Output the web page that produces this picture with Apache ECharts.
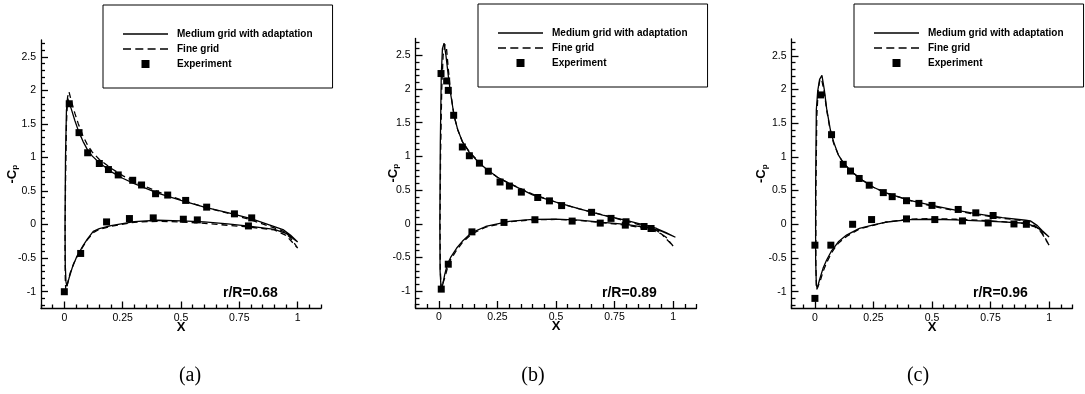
<!DOCTYPE html>
<html>
<head>
<meta charset="utf-8">
<script src="https://cdn.jsdelivr.net/npm/echarts@6.0.0/dist/echarts.min.js"></script>
<style>
  html, body { margin: 0; padding: 0; background: #fff; }
  #main { width: 1085px; height: 394px; }
</style>
</head>
<body>
<div id="main"></div>
<script>
// tick labels
const xTicks = [0, 0.25, 0.5, 0.75, 1]
const yTicks = [-1, -0.5, 0, 0.5, 1, 1.5, 2, 2.5]
const panelLabels = ['(a)', '(b)', '(c)']
const radiusLabels = ['r/R=0.68', 'r/R=0.89', 'r/R=0.96']
const seriesNames = ['Medium grid with adaptation', 'Fine grid', 'Experiment']

// (a) r/R = 0.68  -- [x, -Cp], trailing edge -> upper -> leading edge -> lower -> trailing edge
const mediumA = [
  [1.0, -0.26], [0.97, -0.16], [0.94, -0.08], [0.9, -0.03], [0.8, 0.09], [0.7, 0.18], [0.6, 0.26],
  [0.5, 0.36], [0.4, 0.47], [0.3, 0.61], [0.25, 0.69], [0.2, 0.79], [0.15, 0.92], [0.12, 1.02],
  [0.1, 1.11], [0.08, 1.24], [0.06, 1.4], [0.045, 1.55], [0.03, 1.72], [0.02, 1.83], [0.014, 1.88],
  [0.009, 1.7], [0.005, 1.0], [0.003, 0], [0.004, -0.6], [0.007, -0.85], [0.011, -0.92], [0.02, -0.8],
  [0.035, -0.63], [0.053, -0.48], [0.081, -0.31], [0.1, -0.21], [0.124, -0.1], [0.15, -0.06],
  [0.2, -0.015], [0.3, 0.045], [0.4, 0.065], [0.5, 0.055], [0.6, 0.04], [0.7, 0.01], [0.8, -0.025],
  [0.9, -0.07], [0.95, -0.13], [1.0, -0.26]
]
const fineA = [
  [1.0, -0.35], [0.97, -0.2], [0.94, -0.1], [0.9, -0.05], [0.8, 0.07], [0.7, 0.17], [0.6, 0.26],
  [0.5, 0.37], [0.4, 0.49], [0.3, 0.64], [0.25, 0.73], [0.2, 0.84], [0.15, 0.97], [0.12, 1.08],
  [0.1, 1.18], [0.08, 1.32], [0.06, 1.5], [0.045, 1.66], [0.03, 1.84], [0.02, 1.98], [0.014, 1.9],
  [0.009, 1.5], [0.005, 0.6], [0.003, -0.3], [0.004, -0.8], [0.006, -0.98], [0.012, -0.9],
  [0.025, -0.72], [0.04, -0.58], [0.06, -0.44], [0.081, -0.32], [0.1, -0.22], [0.124, -0.12],
  [0.15, -0.07], [0.2, -0.025], [0.3, 0.035], [0.4, 0.05], [0.5, 0.04], [0.6, 0.02], [0.7, -0.01],
  [0.8, -0.04], [0.9, -0.08], [0.95, -0.16], [1.0, -0.35]
]
const expA = [
  [0, -1.0], [0.021, 1.8], [0.063, 1.37], [0.1, 1.07], [0.15, 0.91], [0.189, 0.82], [0.231, 0.74],
  [0.293, 0.66], [0.331, 0.59], [0.391, 0.46], [0.443, 0.44], [0.52, 0.36], [0.61, 0.26],
  [0.729, 0.16], [0.803, 0.1], [0.07, -0.43], [0.181, 0.04], [0.279, 0.09], [0.381, 0.1],
  [0.51, 0.08], [0.57, 0.07], [0.789, -0.02]
]

// (b) r/R = 0.89
const mediumB = [
  [1.01, -0.2], [0.97, -0.13], [0.93, -0.07], [0.9, -0.04], [0.8, 0.05], [0.7, 0.13], [0.6, 0.22],
  [0.5, 0.32], [0.4, 0.43], [0.3, 0.6], [0.25, 0.69], [0.2, 0.82], [0.17, 0.91], [0.13, 1.06],
  [0.1, 1.22], [0.08, 1.4], [0.065, 1.6], [0.05, 1.93], [0.04, 2.2], [0.03, 2.5], [0.022, 2.68],
  [0.015, 2.6], [0.01, 2.2], [0.006, 1.2], [0.004, 0], [0.005, -0.7], [0.009, -0.95], [0.015, -0.92],
  [0.025, -0.75], [0.036, -0.6], [0.05, -0.5], [0.076, -0.36], [0.1, -0.26], [0.14, -0.13],
  [0.2, -0.04], [0.25, 0], [0.3, 0.035], [0.4, 0.065], [0.5, 0.07], [0.6, 0.055], [0.7, 0.02],
  [0.8, -0.01], [0.9, -0.065], [0.95, -0.11], [1.01, -0.2]
]
const fineB = [
  [1.0, -0.33], [0.97, -0.2], [0.93, -0.1], [0.9, -0.06], [0.8, 0.04], [0.7, 0.13], [0.6, 0.22],
  [0.5, 0.32], [0.4, 0.44], [0.3, 0.6], [0.25, 0.69], [0.2, 0.82], [0.17, 0.92], [0.13, 1.07],
  [0.1, 1.22], [0.08, 1.4], [0.065, 1.6], [0.05, 1.95], [0.04, 2.3], [0.032, 2.62], [0.026, 2.66],
  [0.018, 2.5], [0.012, 2.0], [0.007, 1.0], [0.005, 0], [0.006, -0.7], [0.01, -0.96], [0.016, -0.94],
  [0.025, -0.8], [0.036, -0.66], [0.05, -0.53], [0.076, -0.39], [0.1, -0.28], [0.14, -0.15],
  [0.2, -0.05], [0.25, -0.01], [0.3, 0.03], [0.4, 0.06], [0.5, 0.065], [0.6, 0.05], [0.7, 0.015],
  [0.8, -0.02], [0.9, -0.08], [0.95, -0.15], [1.0, -0.33]
]
const expB = [
  [0.009, 2.23], [0.033, 2.12], [0.04, 1.98], [0.063, 1.61], [0.1, 1.14], [0.13, 1.01], [0.173, 0.9],
  [0.211, 0.78], [0.261, 0.62], [0.301, 0.56], [0.352, 0.47], [0.422, 0.39], [0.472, 0.34],
  [0.524, 0.27], [0.652, 0.17], [0.735, 0.08], [0.799, 0.03],
  [0.01, -0.97], [0.04, -0.6], [0.141, -0.12], [0.278, 0.02], [0.41, 0.06], [0.569, 0.04],
  [0.689, 0.01], [0.796, -0.02], [0.876, -0.04], [0.906, -0.07]
]

// (c) r/R = 0.96
const mediumC = [
  [1.0, -0.19], [0.97, -0.09], [0.95, -0.02], [0.92, 0.05], [0.9, 0.06], [0.8, 0.1], [0.7, 0.15],
  [0.6, 0.21], [0.5, 0.28], [0.4, 0.36], [0.3, 0.47], [0.25, 0.55], [0.2, 0.66], [0.15, 0.8],
  [0.12, 0.92], [0.1, 1.03], [0.08, 1.22], [0.065, 1.42], [0.05, 1.72], [0.04, 2.0], [0.03, 2.21],
  [0.02, 2.15], [0.012, 1.98], [0.006, 1.7], [0.003, 0.5], [0.003, -0.5], [0.006, -0.9], [0.01, -0.95],
  [0.02, -0.82], [0.035, -0.65], [0.05, -0.53], [0.07, -0.4], [0.085, -0.33], [0.1, -0.26],
  [0.135, -0.16], [0.19, -0.06], [0.25, -0.01], [0.3, 0.03], [0.4, 0.07], [0.5, 0.075], [0.6, 0.065],
  [0.7, 0.05], [0.8, 0.035], [0.9, 0.015], [0.94, -0.03], [0.97, -0.1], [1.0, -0.19]
]
const fineC = [
  [1.0, -0.31], [0.97, -0.14], [0.95, -0.05], [0.92, 0.03], [0.9, 0.05], [0.8, 0.09], [0.7, 0.14],
  [0.6, 0.2], [0.5, 0.27], [0.4, 0.36], [0.3, 0.47], [0.25, 0.55], [0.2, 0.66], [0.15, 0.8],
  [0.12, 0.92], [0.1, 1.03], [0.08, 1.2], [0.065, 1.4], [0.05, 1.7], [0.04, 1.96], [0.03, 2.13],
  [0.022, 2.16], [0.014, 2.0], [0.008, 1.6], [0.004, 0.4], [0.004, -0.6], [0.007, -0.97],
  [0.012, -0.98], [0.022, -0.85], [0.035, -0.7], [0.05, -0.57], [0.07, -0.43], [0.085, -0.35],
  [0.1, -0.28], [0.135, -0.18], [0.19, -0.07], [0.25, -0.015], [0.3, 0.03], [0.4, 0.075],
  [0.5, 0.085], [0.6, 0.075], [0.7, 0.06], [0.8, 0.04], [0.9, 0.01], [0.94, -0.04], [0.97, -0.12],
  [1.0, -0.31]
]
const expC = [
  [0.024, 1.92], [0.071, 1.33], [0.121, 0.89], [0.152, 0.79], [0.189, 0.68], [0.232, 0.58],
  [0.292, 0.47], [0.33, 0.41], [0.391, 0.35], [0.444, 0.31], [0.5, 0.28], [0.612, 0.22],
  [0.687, 0.17], [0.761, 0.13],
  [0, -0.31], [0, -1.1], [0.068, -0.31], [0.161, 0], [0.242, 0.07], [0.391, 0.08], [0.512, 0.07],
  [0.63, 0.05], [0.74, 0.02], [0.85, 0.005], [0.903, 0.0]
]

const panels = [
  { medium: mediumA, fine: fineA, exp: expA },
  { medium: mediumB, fine: fineB, exp: expB },
  { medium: mediumC, fine: fineC, exp: expC }
]

// layout (pixels)
const grids = [
  { left: 41, top: 40, width: 280, height: 268.5 },
  { left: 415.5, top: 38.5, width: 281, height: 269.5 },
  { left: 791.5, top: 39, width: 281, height: 269.5 }
]
const legendPos = [{ left: 103, top: 5 }, { left: 478, top: 4 }, { left: 854, top: 4 }]
const yNameGap = [22, 15.5, 23]
const rrPos = [[223, 293], [602, 293], [973, 293]]
const labelPos = [[190, 376], [533, 376], [918, 376]]

// legend samples: solid line and dashed line drawn as thin filled paths
const solidIcon = 'path://M0 0H45V1.4H0Z'
const dashedIcon = 'path://M0 0H8V1.4H0Z M12.3 0H20.3V1.4H12.3Z M24.6 0H32.6V1.4H24.6Z M37 0H45V1.4H37Z'
const squareIcon = 'path://M0 0H10V10H0Z'

const minorTicks = (lo, hi, step, majors) => {
  const out = []
  for (let v = lo; v <= hi + 1e-9; v += step) {
    const r = Math.round(v * 100) / 100
    if (!majors.some(m => Math.abs(m - r) < 1e-9)) out.push(r)
  }
  return out
}
const xMinor = minorTicks(-0.1, 1.1, 0.05, xTicks)
const yMinor = minorTicks(-1.2, 2.7, 0.1, yTicks)

const black = '#000'
const font = 'Arial, "Liberation Sans", sans-serif'
const lineStyle = () => ({ color: black, width: 1.3 })

const option = {
  animation: false,
  backgroundColor: '#fff',
  grid: [],
  xAxis: [],
  yAxis: [],
  legend: [],
  series: [],
  graphic: []
}

panels.forEach((p, i) => {
  const g = grids[i]
  option.grid.push(Object.assign({ outerBoundsMode: 'none', containLabel: false }, g))

  // axis lines + labels
  option.xAxis.push({
    gridIndex: i, type: 'value', min: -0.1, max: 1.1, position: 'bottom',
    axisLine: { show: true, onZero: false, lineStyle: lineStyle() },
    axisTick: { show: false },
    axisLabel: { customValues: xTicks, color: black, fontSize: 10.5, fontFamily: font, margin: 4 },
    splitLine: { show: false },
    name: 'X', nameLocation: 'middle', nameGap: 12, nameMoveOverlap: false,
    nameTextStyle: { color: black, fontSize: 13, fontWeight: 'bold', fontFamily: font }
  })
  option.yAxis.push({
    gridIndex: i, type: 'value', min: -1.25, max: 2.75, position: 'left',
    axisLine: { show: true, onZero: false, lineStyle: lineStyle() },
    axisTick: { show: false },
    axisLabel: { customValues: yTicks, color: black, fontSize: 10.5, fontFamily: font, margin: 5 },
    splitLine: { show: false },
    name: '-C{p|p}', nameLocation: 'middle', nameRotate: 90, nameGap: yNameGap[i], nameMoveOverlap: false,
    nameTextStyle: {
      color: black, fontSize: 13, fontWeight: 'bold', fontFamily: font,
      rich: { p: { fontSize: 8, fontWeight: 'bold', fontFamily: font, color: black, verticalAlign: 'bottom', padding: [6, 0, 0, 0] } }
    }
  })

  // tick-only axes: placed on the opposite side and shifted back onto the frame,
  // so their outward ticks point into the plot
  const tickX = (values, len) => ({
    gridIndex: i, type: 'value', min: -0.1, max: 1.1, position: 'top', offset: -g.height,
    axisLine: { show: false, onZero: false },
    axisTick: { show: true, length: len, customValues: values, lineStyle: lineStyle() },
    axisLabel: { show: false }, splitLine: { show: false }
  })
  const tickY = (values, len) => ({
    gridIndex: i, type: 'value', min: -1.25, max: 2.75, position: 'right', offset: -g.width,
    axisLine: { show: false, onZero: false },
    axisTick: { show: true, length: len, customValues: values, lineStyle: lineStyle() },
    axisLabel: { show: false }, splitLine: { show: false }
  })
  option.xAxis.push(tickX(xTicks, 7), tickX(xMinor, 4))
  option.yAxis.push(tickY(yTicks, 7), tickY(yMinor, 4))

  option.legend.push({
    orient: 'vertical',
    left: legendPos[i].left, top: legendPos[i].top,
    itemWidth: 45, itemHeight: 8, itemGap: 5,
    padding: [24, 20, 19, 20],
    borderColor: black, borderWidth: 1, backgroundColor: '#fff',
    selectedMode: false,
    itemStyle: { color: black, opacity: 1 },
    textStyle: { color: black, fontSize: 10, fontWeight: 'bold', fontFamily: font, padding: [0, 0, 0, 4] },
    data: [
      { name: seriesNames[0], icon: solidIcon },
      { name: seriesNames[1], icon: dashedIcon },
      { name: seriesNames[2], icon: squareIcon }
    ]
  })

  const xi = i * 3
  option.series.push({
    name: seriesNames[0], type: 'line', xAxisIndex: xi, yAxisIndex: xi,
    data: p.medium, symbol: 'none', smooth: false, color: black,
    lineStyle: { color: black, width: 1.3, type: 'solid' }, z: 3
  })
  option.series.push({
    name: seriesNames[1], type: 'line', xAxisIndex: xi, yAxisIndex: xi,
    data: p.fine, symbol: 'none', smooth: false, color: black,
    lineStyle: { color: black, width: 1.3, type: [6, 4] }, z: 3
  })
  option.series.push({
    name: seriesNames[2], type: 'scatter', xAxisIndex: xi, yAxisIndex: xi,
    data: p.exp, symbol: 'rect', symbolSize: 7, color: black,
    itemStyle: { color: black, opacity: 1 }, z: 4
  })

  option.graphic.push({
    type: 'text', x: rrPos[i][0], y: rrPos[i][1],
    style: { text: radiusLabels[i], font: 'bold 14px ' + font, fill: black, verticalAlign: 'middle' }
  })
  option.graphic.push({
    type: 'text', x: labelPos[i][0], y: labelPos[i][1],
    style: { text: panelLabels[i], font: '20px "Liberation Serif", "Times New Roman", serif', fill: black, align: 'center', verticalAlign: 'middle' }
  })
})

const myChart = echarts.init(document.getElementById('main'), null, { renderer: 'canvas' })
myChart.setOption(option)
</script>
</body>
</html>
